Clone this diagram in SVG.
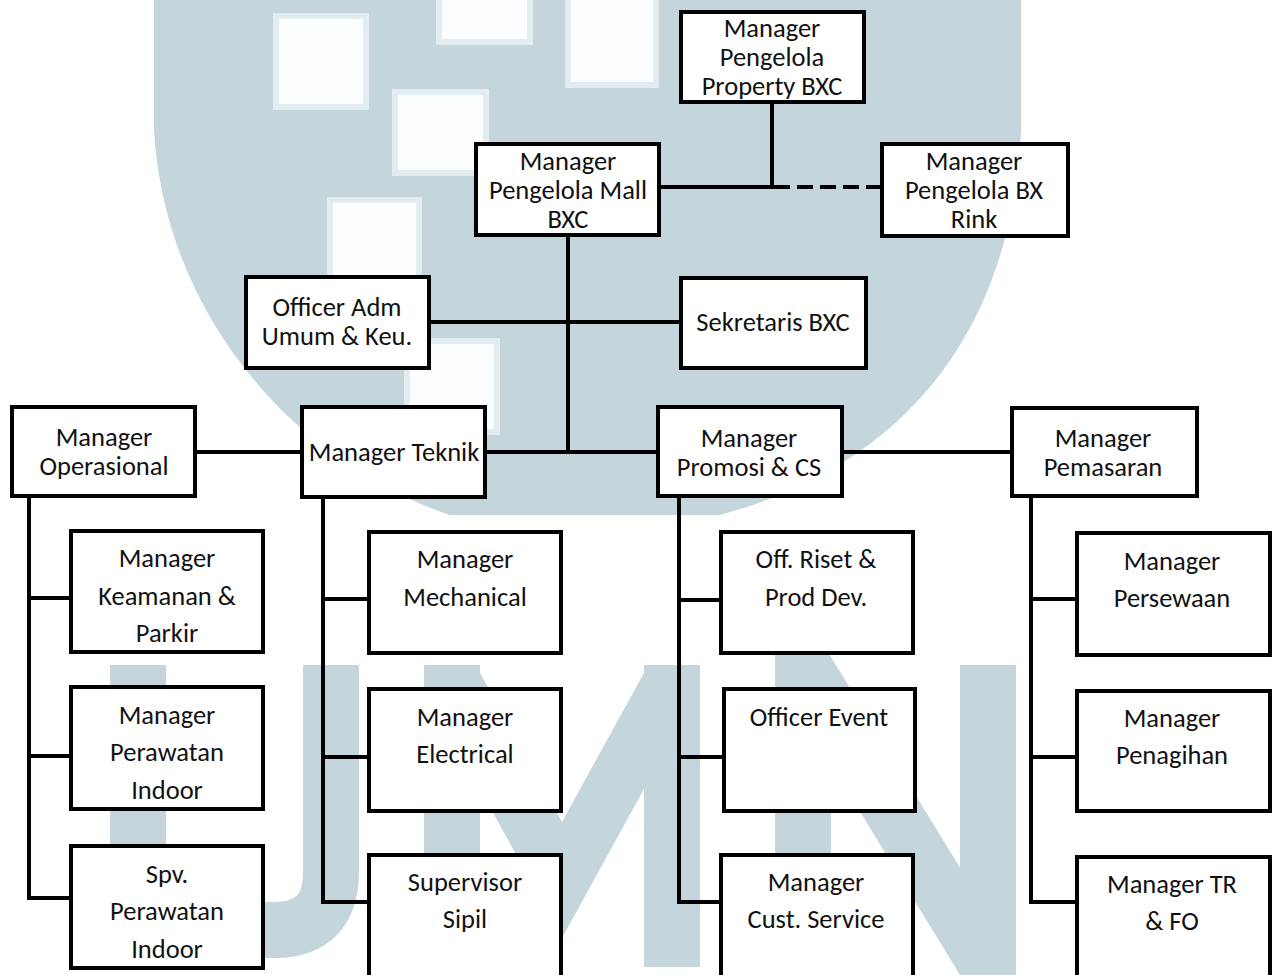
<svg xmlns="http://www.w3.org/2000/svg" width="1278" height="975" viewBox="0 0 1278 975">
<style>
.bx{fill:#fff;stroke:#000;stroke-width:4}
.t{font-family:Carlito,Calibri,"Liberation Sans",sans-serif;font-size:26.5px;fill:#111;text-anchor:middle;dominant-baseline:central}
.c{fill:none;stroke:#000;stroke-width:4}
.wm{fill:#c4d5db}
.wl{fill:none;stroke:#c4d5db;stroke-width:56}
.sq{fill:#fbfdfe;stroke:#e3edf1;stroke-width:6}
</style>
<rect width="1278" height="975" fill="#fff"/>
<g id="watermark">
<path class="wm" d="M154,0 H1021 V130 C1012,330 905,465 720,515 H450 C300,465 165,320 154,130 Z"/>
<rect class="sq" x="276" y="16" width="90" height="91"/>
<rect class="sq" x="439" y="-6" width="91" height="48"/>
<rect class="sq" x="568" y="-6" width="88" height="91"/>
<rect class="sq" x="395" y="92" width="91" height="81"/>
<rect class="sq" x="330" y="200" width="89" height="90"/>
<rect class="sq" x="407" y="341" width="90" height="91"/>
<path class="wl" d="M138,665 V872 Q138,930 196,930 H274 Q331,930 331,872 V665"/>
<path class="wl" d="M452,665 V967 M452,680 L562,880 L672,680 M672,665 V967"/>
<path class="wl" d="M803,967 V665 L988,967 V665"/>
</g>
<g id="connectors">
<path class="c" d="M772,104 V187 M661,187 H774"/>
<path class="c" d="M774,187 H880" stroke-dasharray="16,7"/>
<path class="c" d="M568,237 V454" stroke-width="5"/>
<path class="c" d="M431,322 H680"/>
<path class="c" d="M197,452 H300 M487,452 H656 M843,452 H1010"/>
<path class="c" d="M29,498 V898 M29,598 H69 M29,756 H69 M27,898 H69"/>
<path class="c" d="M323,499 V902 M323,599 H367 M323,757 H367 M321,902 H367"/>
<path class="c" d="M679,498 V902 M679,600 H719 M679,757 H722 M677,902 H719"/>
<path class="c" d="M1031,498 V902 M1031,599 H1075 M1031,757 H1075 M1029,902 H1075"/>
</g>
<g id="n-prop"><rect class="bx" x="681" y="12" width="183" height="90"/><text class="t" x="772" y="28">Manager</text><text class="t" x="772" y="57">Pengelola</text><text class="t" x="772" y="86">Property BXC</text></g>
<g id="n-mall"><rect class="bx" x="476" y="144" width="183" height="91"/><text class="t" x="568" y="161">Manager</text><text class="t" x="568" y="190">Pengelola Mall</text><text class="t" x="568" y="219">BXC</text></g>
<g id="n-rink"><rect class="bx" x="882" y="144" width="186" height="92"/><text class="t" x="974" y="161">Manager</text><text class="t" x="974" y="190">Pengelola BX</text><text class="t" x="974" y="219">Rink</text></g>
<g id="n-adm"><rect class="bx" x="246" y="277" width="183" height="91"/><text class="t" x="337" y="307">Officer Adm</text><text class="t" x="337" y="336">Umum &amp; Keu.</text></g>
<g id="n-sek"><rect class="bx" x="681" y="278" width="185" height="90"/><text class="t" x="773" y="322">Sekretaris BXC</text></g>
<g id="n-ops"><rect class="bx" x="12" y="407" width="183" height="89"/><text class="t" x="104" y="437">Manager</text><text class="t" x="104" y="466">Operasional</text></g>
<g id="n-tek"><rect class="bx" x="302" y="407" width="183" height="90"/><text class="t" x="394" y="452">Manager Teknik</text></g>
<g id="n-promo"><rect class="bx" x="658" y="407" width="184" height="89"/><text class="t" x="749" y="438">Manager</text><text class="t" x="749" y="467">Promosi &amp; CS</text></g>
<g id="n-pem"><rect class="bx" x="1012" y="408" width="185" height="88"/><text class="t" x="1103" y="438">Manager</text><text class="t" x="1103" y="467">Pemasaran</text></g>
<g id="n-kea"><rect class="bx" x="71" y="531" width="192" height="121"/><text class="t" x="167" y="558">Manager</text><text class="t" x="167" y="596">Keamanan &amp;</text><text class="t" x="167" y="633">Parkir</text></g>
<g id="n-raw"><rect class="bx" x="71" y="687" width="192" height="122"/><text class="t" x="167" y="715">Manager</text><text class="t" x="167" y="752">Perawatan</text><text class="t" x="167" y="790">Indoor</text></g>
<g id="n-spv"><rect class="bx" x="71" y="846" width="192" height="122"/><text class="t" x="167" y="874">Spv.</text><text class="t" x="167" y="911">Perawatan</text><text class="t" x="167" y="949">Indoor</text></g>
<g id="n-mech"><rect class="bx" x="369" y="532" width="192" height="121"/><text class="t" x="465" y="559">Manager</text><text class="t" x="465" y="597">Mechanical</text></g>
<g id="n-elec"><rect class="bx" x="369" y="689" width="192" height="122"/><text class="t" x="465" y="717">Manager</text><text class="t" x="465" y="754">Electrical</text></g>
<g id="n-sup"><rect class="bx" x="369" y="855" width="192" height="130"/><text class="t" x="465" y="882">Supervisor</text><text class="t" x="465" y="919">Sipil</text></g>
<g id="n-riset"><rect class="bx" x="721" y="532" width="192" height="121"/><text class="t" x="816" y="559">Off. Riset &amp;</text><text class="t" x="816" y="597">Prod Dev.</text></g>
<g id="n-event"><rect class="bx" x="724" y="689" width="191" height="122"/><text class="t" x="819" y="717">Officer Event</text></g>
<g id="n-cust"><rect class="bx" x="721" y="855" width="192" height="130"/><text class="t" x="816" y="882">Manager</text><text class="t" x="816" y="919">Cust. Service</text></g>
<g id="n-sewa"><rect class="bx" x="1077" y="533" width="193" height="122"/><text class="t" x="1172" y="561">Manager</text><text class="t" x="1172" y="598">Persewaan</text></g>
<g id="n-tagih"><rect class="bx" x="1077" y="691" width="193" height="120"/><text class="t" x="1172" y="718">Manager</text><text class="t" x="1172" y="755">Penagihan</text></g>
<g id="n-tr"><rect class="bx" x="1077" y="857" width="193" height="128"/><text class="t" x="1172" y="884">Manager TR</text><text class="t" x="1172" y="921">&amp; FO</text></g>
</svg>
